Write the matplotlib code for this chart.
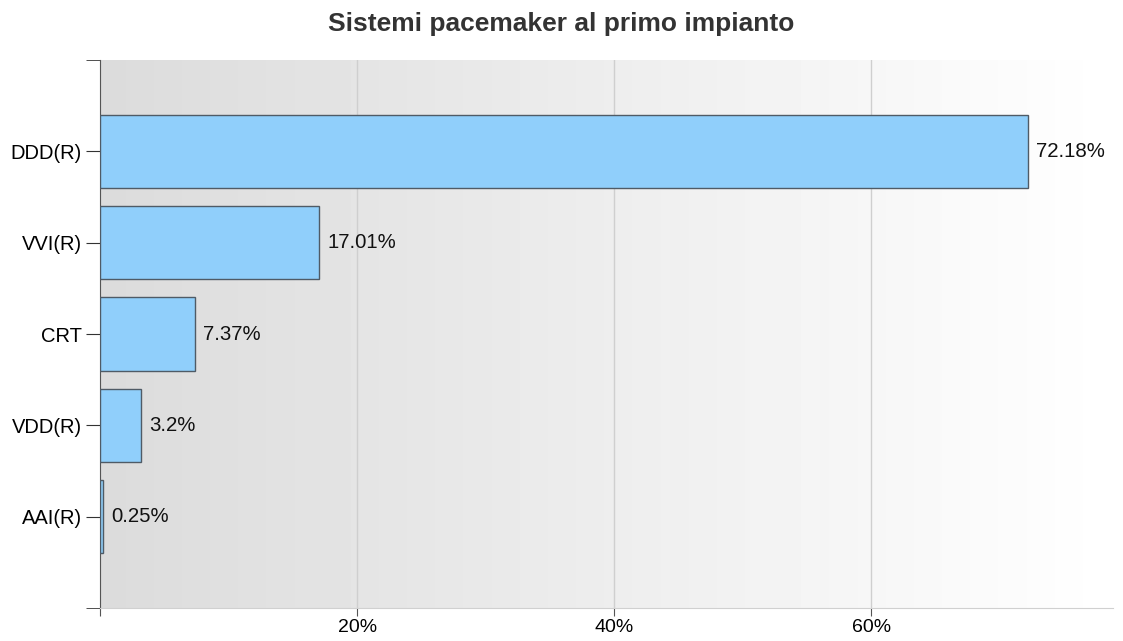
import numpy as np
import matplotlib.pyplot as plt

# chart data
categories = ["DDD(R)", "VVI(R)", "CRT", "VDD(R)", "AAI(R)"]
percentages = [72.18, 17.01, 7.37, 3.2, 0.25]
value_labels = ["72.18%", "17.01%", "7.37%", "3.2%", "0.25%"]
x_ticks = [0, 20, 40, 60]
x_tick_labels = ["", "20%", "40%", "60%"]

plt.rcParams["font.family"] = ["Liberation Sans", "DejaVu Sans"]

fig = plt.figure(figsize=(11.23, 6.41), dpi=100)
ax = fig.add_axes([100 / 1123, 1 - 608 / 641, 1013 / 1123, 548 / 641])

xmax = 78.8
ymin, ymax = -1, 5

# gradient background, grey on the left fading to white
grad = np.linspace(0.86, 1.0, 256).reshape(1, -1)
ax.imshow(grad, extent=[0, xmax, ymin, ymax], aspect="auto", cmap="gray",
          vmin=0, vmax=1, zorder=0, interpolation="bicubic")

ypos = np.arange(len(categories))[::-1]
ax.barh(ypos, percentages, height=0.8, color="#90cffb", edgecolor="#4f5b66",
        linewidth=1, zorder=3)

for y, v, lab in zip(ypos, percentages, value_labels):
    ax.annotate(lab, xy=(v, y), xytext=(6, 0), textcoords="offset points",
                va="center", ha="left", fontsize=14.7, color="#111111",
                zorder=4)

ax.set_xlim(0, xmax)
ax.set_ylim(ymin, ymax)

ax.set_xticks(x_ticks)
ax.set_xticklabels(x_tick_labels, fontsize=14)
ax.set_yticks(ypos)
ax.set_yticklabels(categories, fontsize=14.5)
ax.set_yticks([ymin, ymax], minor=True)

ax.grid(axis="x", color="#cfcfcf", linewidth=1, zorder=1)
ax.set_axisbelow(True)

ax.tick_params(axis="y", which="major", length=10, color="#333333", pad=3)
ax.tick_params(axis="y", which="minor", length=10, color="#333333")
ax.tick_params(axis="x", length=6, color="#555555", pad=2)

for s in ["top", "right"]:
    ax.spines[s].set_visible(False)
ax.spines["left"].set_color("#555555")
ax.spines["bottom"].set_color("#d0d0d0")

fig.text(0.5, 1 - 24 / 641, "Sistemi pacemaker al primo impianto",
         ha="center", va="center", fontsize=19, fontweight="bold",
         color="#333333")

fig.savefig("out.png", dpi=100)
